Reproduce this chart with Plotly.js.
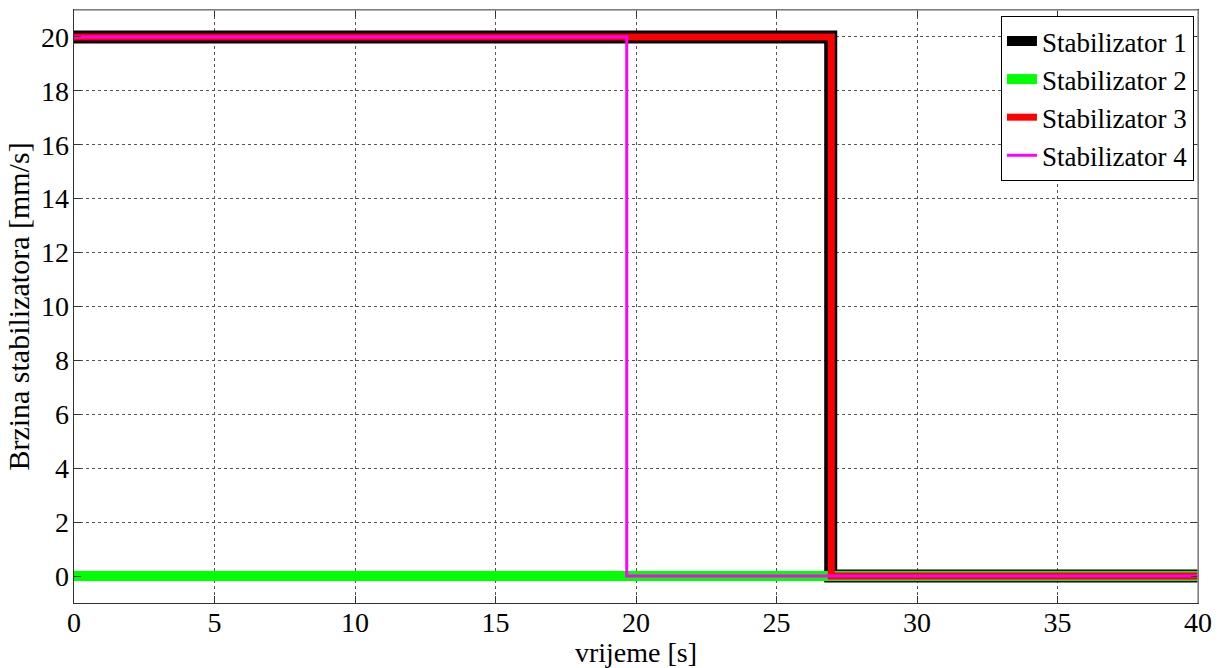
<!DOCTYPE html>
<html><head><meta charset="utf-8">
<script src="https://cdn.plot.ly/plotly-3.0.1.min.js"></script>
<style>html,body{margin:0;padding:0;background:#fff}#chart{width:1224px;height:668px}</style>
</head><body><div id="chart"></div>
<script>
// Data
var seriesNames = ["Stabilizator 1", "Stabilizator 2", "Stabilizator 3", "Stabilizator 4"];
var s1_time = [0, 26.93, 40];
var s1_speed = [20, 0, 0];
var s2_time = [0, 40];
var s2_speed = [0, 0];
var s3_time = [0, 26.95, 40];
var s3_speed = [20, 0, 0];
var s4_time = [0, 19.67, 40];
var s4_speed = [20, 0, 0];
var xTicks = [0, 5, 10, 15, 20, 25, 30, 35, 40];
var yTicks = [0, 2, 4, 6, 8, 10, 12, 14, 16, 18, 20];

var fontFam = "Liberation Serif";
var traces = [
  {x: s1_time, y: s1_speed, name: seriesNames[0], mode: "lines", line: {shape: "hv", color: "#000000", width: 13}},
  {x: s2_time, y: s2_speed, name: seriesNames[1], mode: "lines", line: {shape: "hv", color: "#00ff00", width: 10}},
  {x: s3_time, y: s3_speed, name: seriesNames[2], mode: "lines", line: {shape: "hv", color: "#ff0000", width: 7}},
  {x: s4_time, y: s4_speed, name: seriesNames[3], mode: "lines", line: {shape: "hv", color: "#ff00ff", width: 3}}
];
var axisCommon = {
  showgrid: true, gridcolor: "#555", griddash: "dot", gridwidth: 1,
  zeroline: false, showline: true, linecolor: "#333", linewidth: 1.3,
  ticks: "inside", ticklen: 7, tickcolor: "#333", mirror: "ticks",
  tickfont: {family: fontFam, size: 28, color: "#000"}
};
var layout = {
  width: 1224, height: 668,
  font: {family: fontFam},
  margin: {l: 74, r: 26, t: 10, b: 65},
  paper_bgcolor: "#fff", plot_bgcolor: "#fff",
  showlegend: true,
  legend: {x: 0.9964, xanchor: "right", y: 0.99, yanchor: "top",
    bgcolor: "#fff", bordercolor: "#000", borderwidth: 1,
    font: {family: fontFam, size: 27, color: "#000"}, tracegroupgap: 0, itemwidth: 30},
  xaxis: Object.assign({}, axisCommon, {range: [0, 40], tickvals: xTicks, ticktext: xTicks.map(String),
    ticklabelstandoff: -6,
    title: {text: "vrijeme [s]", font: {family: fontFam, size: 28, color: "#000"}, standoff: 0}}),
  yaxis: Object.assign({}, axisCommon, {range: [-1, 21], tickvals: yTicks, ticktext: yTicks.map(String),
    ticklabelstandoff: -2,
    title: {text: "Brzina stabilizatora [mm/s]", font: {family: fontFam, size: 30, color: "#000"}, standoff: 2}}),
  shapes: [
    {type: "line", xref: "paper", yref: "paper", x0: 0, x1: 1, y0: 1, y1: 1, line: {color: "#999", width: 1.5}},
    {type: "line", xref: "paper", yref: "paper", x0: 1, x1: 1, y0: 0, y1: 1, line: {color: "#999", width: 1.5}}
  ]
};
Plotly.newPlot("chart", traces, layout, {displayModeBar: false, staticPlot: true});
</script></body></html>
